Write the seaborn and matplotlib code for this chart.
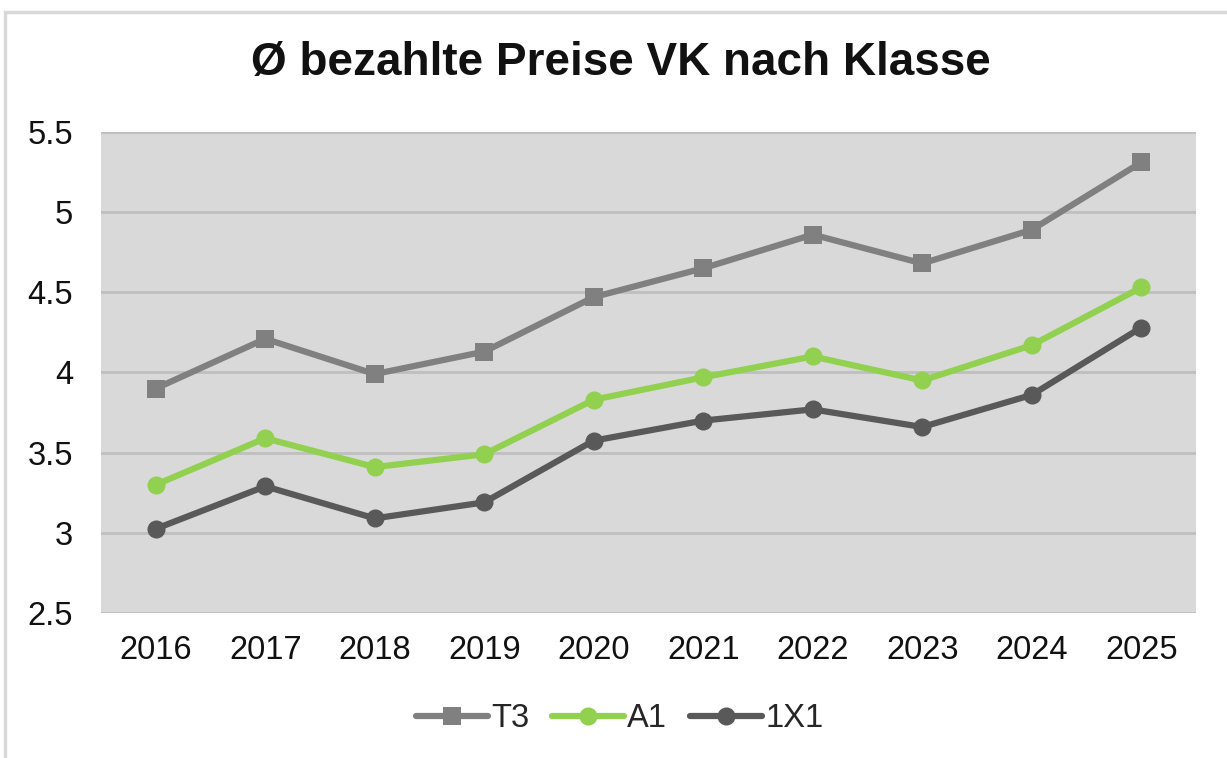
import seaborn as sns
import matplotlib.pyplot as plt
import matplotlib.patches as mpatches
import pandas as pd

years = [2016, 2017, 2018, 2019, 2020, 2021, 2022, 2023, 2024, 2025]
t3 = [3.90, 4.21, 3.99, 4.13, 4.47, 4.65, 4.86, 4.68, 4.89, 5.31]
a1 = [3.30, 3.59, 3.41, 3.49, 3.83, 3.97, 4.10, 3.95, 4.17, 4.53]
x1 = [3.025, 3.29, 3.09, 3.19, 3.575, 3.70, 3.77, 3.66, 3.86, 4.28]
series = ['T3', 'A1', '1X1']
colors = {'T3': '#808080', 'A1': '#92D050', '1X1': '#595959'}
markers = {'T3': 's', 'A1': 'o', '1X1': 'o'}

df = pd.DataFrame({'year': years, 'T3': t3, 'A1': a1, '1X1': x1})
long = df.melt(id_vars='year', var_name='Klasse', value_name='preis')

sns.set_style('white')
plt.rcParams['font.family'] = ['Liberation Sans', 'DejaVu Sans']

fig = plt.figure(figsize=(12.27, 7.58), dpi=100)
ax = fig.add_axes([0.0823, 0.1913, 0.8924, 0.6346])

# outer chart frame
fig.patches.append(mpatches.Rectangle((5 / 1227, -0.05), 1.2, 1 - 12 / 758 + 0.05,
                                      transform=fig.transFigure, fill=False,
                                      edgecolor='#D9D9D9', linewidth=2.5))

sns.lineplot(data=long, x='year', y='preis', hue='Klasse', style='Klasse',
             hue_order=series, style_order=series, palette=colors,
             markers=markers, dashes=False, linewidth=4.5, markersize=13,
             markeredgewidth=0, ax=ax)

ax.set_facecolor('#D9D9D9')
ax.set_xlim(2015.5, 2025.5)
ax.set_ylim(2.5, 5.5)
ax.set_xticks(years)
ax.set_xticklabels([str(y) for y in years])
ax.set_yticks([2.5, 3, 3.5, 4, 4.5, 5, 5.5])
ax.set_yticklabels(['2.5', '3', '3.5', '4', '4.5', '5', '5.5'])
ax.yaxis.grid(True, color='#BFBFBF', linewidth=2)
ax.set_axisbelow(True)
for s in ax.spines.values():
    s.set_visible(False)
ax.tick_params(axis='both', length=0, labelsize=23.5, colors='#111111')
ax.tick_params(axis='x', pad=16)
ax.tick_params(axis='y', pad=20)
ax.set_xlabel('')
ax.set_ylabel('')

fig.text(0.506, 0.917, 'Ø bezahlte Preise VK nach Klasse', ha='center', va='center',
         fontsize=33, fontweight='bold', color='#111111')

handles, labels = ax.get_legend_handles_labels()
ax.legend(handles, labels, loc='center', bbox_to_anchor=(0.505, 0.052),
          bbox_transform=fig.transFigure, ncol=3, frameon=False, fontsize=23.5,
          handlelength=2.2, handletextpad=0.1, columnspacing=0.7)

fig.savefig('out.png', dpi=100)
